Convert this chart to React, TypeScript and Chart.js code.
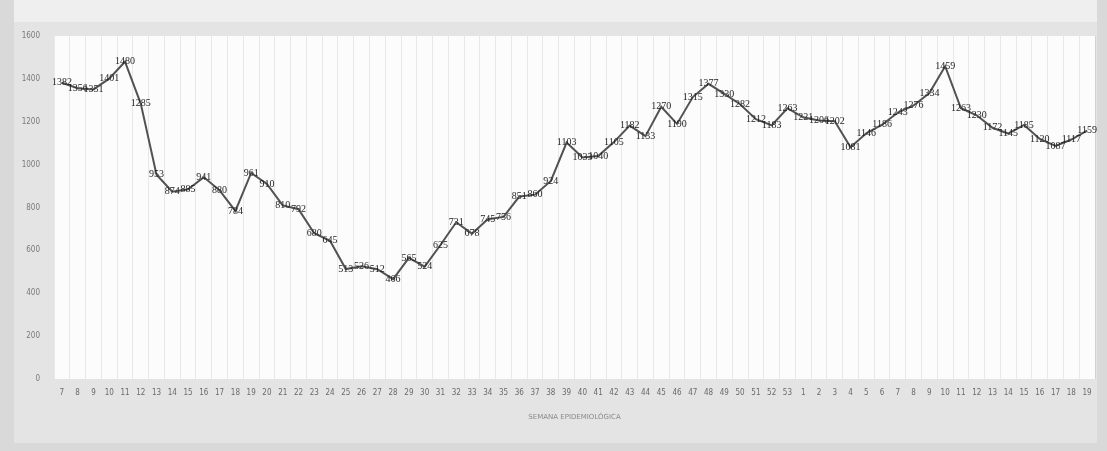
import React, { useEffect, useRef } from "react";
import { Chart, registerables } from "chart.js";

Chart.register(...registerables);

const weeks: string[] = [
  "7", "8", "9", "10", "11", "12", "13", "14", "15", "16", "17", "18", "19", "20", "21", "22", "23", "24", "25", "26",
  "27", "28", "29", "30", "31", "32", "33", "34", "35", "36", "37", "38", "39", "40", "41", "42", "43", "44", "45", "46",
  "47", "48", "49", "50", "51", "52", "53",
  "1", "2", "3", "4", "5", "6", "7", "8", "9", "10", "11", "12", "13", "14", "15", "16", "17", "18", "19",
];

const cases: number[] = [
  1382, 1356, 1351, 1401, 1480, 1285, 953, 874, 885, 941, 880, 784, 961, 910, 810, 792, 680, 645, 513, 526,
  512, 466, 565, 524, 625, 731, 678, 745, 756, 851, 860, 924, 1103, 1033, 1040, 1105, 1182, 1133, 1270, 1190,
  1315, 1377, 1330, 1282, 1212, 1183, 1263,
  1221, 1206, 1202, 1081, 1146, 1186, 1243, 1276, 1334, 1459, 1263, 1230, 1172, 1145, 1185, 1120, 1087, 1117, 1159,
];

const yTicks: number[] = [0, 200, 400, 600, 800, 1000, 1200, 1400, 1600];

const xTitle = "SEMANA EPIDEMIOLÓGICA";

const backgroundPlugin = {
  id: "bgPanel",
  beforeDraw(chart: any) {
    const { ctx, width, height, chartArea } = chart;
    ctx.save();
    ctx.fillStyle = "#d9d9d9";
    ctx.fillRect(0, 0, width, height);
    ctx.fillStyle = "#e4e4e4";
    ctx.fillRect(14, 18, width - 24, height - 26);
    ctx.fillStyle = "#efefef";
    ctx.fillRect(14, 0, width - 24, 22);
    ctx.fillStyle = "#fcfcfc";
    ctx.fillRect(chartArea.left, chartArea.top, chartArea.right - chartArea.left, chartArea.bottom - chartArea.top);
    ctx.restore();
  },
};

const labelPlugin = {
  id: "pointValues",
  afterDatasetsDraw(chart: any) {
    const { ctx } = chart;
    const meta = chart.getDatasetMeta(0);
    const data = chart.data.datasets[0].data as number[];
    ctx.save();
    ctx.font = "10px 'Liberation Serif'";
    ctx.fillStyle = "#1f1f1f";
    ctx.textAlign = "center";
    ctx.textBaseline = "middle";
    meta.data.forEach((pt: any, i: number) => {
      ctx.fillText(String(data[i]), pt.x, pt.y);
    });
    ctx.restore();
  },
};

export default function App() {
  const ref = useRef<HTMLCanvasElement | null>(null);

  useEffect(() => {
    if (!ref.current) return;
    const chart = new Chart(ref.current, {
      type: "line",
      data: {
        labels: weeks,
        datasets: [
          {
            data: cases,
            borderColor: "#525252",
            borderWidth: 2,
            pointRadius: 0,
            tension: 0,
            fill: false,
          },
        ],
      },
      options: {
        responsive: false,
        animation: false,
        layout: { padding: { top: 36, right: 12, left: 0, bottom: 0 } },
        plugins: {
          legend: { display: false },
          tooltip: { enabled: false },
        },
        scales: {
          x: {
            offset: true,
            grid: { display: true, color: "rgba(0,0,0,0.08)", drawTicks: false, offset: true },
            border: { display: false },
            ticks: {
              autoSkip: false,
              maxRotation: 0,
              minRotation: 0,
              padding: 9,
              color: "#6a6a6a",
              font: { size: 8, family: "'DejaVu Sans Condensed', 'DejaVu Sans'" },
            },
            title: {
              display: true,
              text: xTitle,
              color: "#8a8a8a",
              font: { size: 7, family: "'DejaVu Sans'" },
              padding: { top: 30, bottom: 30 },
            },
            afterFit(scale: any) {
              scale.height = 72;
            },
          },
          y: {
            min: 0,
            max: 1600,
            afterBuildTicks(scale: any) {
              scale.ticks = yTicks.map((v) => ({ value: v }));
            },
            grid: { display: false },
            border: { display: false },
            ticks: {
              padding: 6,
              color: "#7a7a7a",
              font: { size: 8, family: "'DejaVu Sans Condensed', 'DejaVu Sans'" },
              callback: (v: any) => String(v),
            },
            afterFit(scale: any) {
              scale.width = 54;
            },
          },
        },
      },
      plugins: [backgroundPlugin, labelPlugin],
    });
    return () => chart.destroy();
  }, []);

  return (
    <div style={{ position: "fixed", left: 0, top: 0, width: 1107, height: 451 }}>
      <canvas ref={ref} width={1107} height={451} style={{ width: 1107, height: 451, display: "block" }} />
    </div>
  );
}
